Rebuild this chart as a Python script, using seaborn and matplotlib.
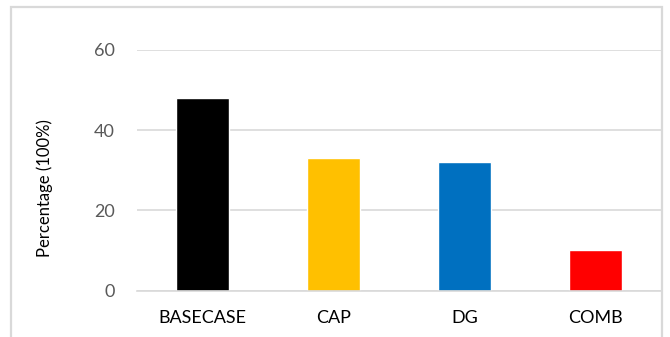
import matplotlib
matplotlib.use("Agg")
import matplotlib.pyplot as plt
import seaborn as sns
import pandas as pd
import numpy as np
from matplotlib.patches import Rectangle

# Scenario results
categories = ["BASECASE", "CAP", "DG", "COMB"]
percentages = [48, 33, 32, 10]
bar_colors = ["#000000", "#FFC000", "#0070C0", "#FF0000"]
y_ticks = [0, 20, 40, 60]

sns.set_theme(style="white")
plt.rcParams["font.family"] = ["Lato", "DejaVu Sans"]

df = pd.DataFrame({"scenario": categories, "pct": percentages})

fig = plt.figure(figsize=(6.7, 3.37), dpi=100)
ax = fig.add_axes([137 / 670, 46.5 / 337, 524 / 670, 240.5 / 337])

sns.barplot(data=df, x="scenario", y="pct", hue="scenario",
            palette=bar_colors, width=0.4, legend=False, ax=ax,
            saturation=1)

grid_color = "#D9D9D9"
ax.set_ylim(0, 60)
ax.set_xlim(-0.5, len(categories) - 0.5)
ax.set_yticks(y_ticks)
ax.set_yticklabels([str(v) for v in y_ticks], color="#595959", fontsize=13)
ax.yaxis.grid(True, color=grid_color, linewidth=1.2)
ax.set_axisbelow(True)
ax.tick_params(axis="y", length=0, pad=16)

# Category labels at centres, tick marks at category boundaries
ax.tick_params(axis="x", which="major", length=0, pad=14, labelsize=13,
               labelcolor="#000000")
ax.set_xticks(np.arange(-0.5, len(categories) - 0.5, 1.0), minor=True)
ax.tick_params(axis="x", which="minor", length=7, width=1.2,
               color=grid_color, direction="out")

for side in ["top", "right", "left"]:
    ax.spines[side].set_visible(False)
ax.spines["bottom"].set_color(grid_color)
ax.spines["bottom"].set_linewidth(1.2)

ax.set_xlabel("")
ax.set_ylabel("Percentage (100%)", fontsize=12, color="#000000")
ax.yaxis.set_label_coords(-0.16, 0.425)

# Chart frame
fig.patches.append(Rectangle((11 / 670, -0.05), (662 - 11) / 670,
                             (337 - 7) / 337 + 0.05,
                             transform=fig.transFigure, fill=False,
                             edgecolor=grid_color, linewidth=1.6))

fig.savefig("out.png", dpi=100)
